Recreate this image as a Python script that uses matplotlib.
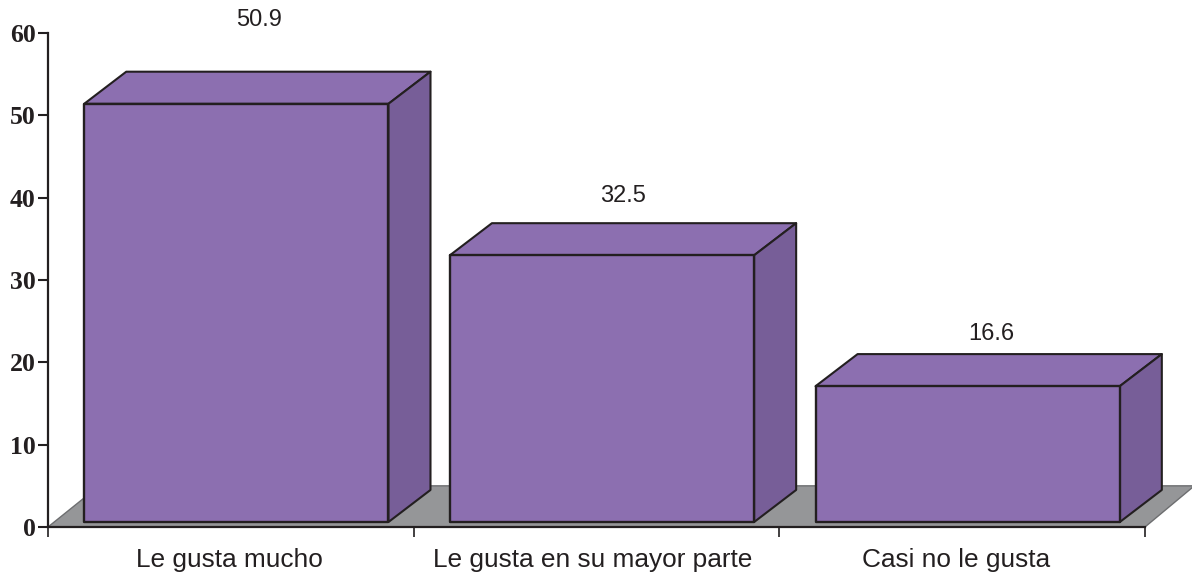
import matplotlib
matplotlib.use("Agg")
import matplotlib.pyplot as plt
from matplotlib.patches import Polygon

categorias = ["Le gusta mucho", "Le gusta en su mayor parte", "Casi no le gusta"]
valores = [50.9, 32.5, 16.6]
ticks_y = [0, 10, 20, 30, 40, 50, 60]

# estilo
morado = "#8c6fb0"
morado_lado = "#775e98"
gris = "#959698"
borde = "#231f20"
ancho = 0.832      # ancho de la barra
centro = 0.515     # centro de la barra dentro de su categoria
base = 0.6         # la cara frontal queda por encima del eje
dx, dy = 0.115, 3.9  # profundidad 3D
# distancia de cada etiqueta sobre la cara frontal, y corrimiento a la derecha
gap_etiqueta = [10.2, 7.2, 6.3]
corrimiento = [0.063, 0.058, 0.064]
pos_categorias = [0.497, 1.49, 2.483]

fig = plt.figure(figsize=(11.92, 5.74), dpi=100)
ax = fig.add_axes([48 / 1192, 1 - 527 / 574, 1097 / 1192, 494 / 574])
ax.set_xlim(0, 3)
ax.set_ylim(0, 60)

# Piso gris
ax.add_patch(Polygon([(0, 0), (3, 0), (3 + 0.135, 5.0), (0.14, 5.0)],
                     facecolor=gris, edgecolor="#6d6e70", linewidth=1, clip_on=False, zorder=1))

# Barras
for i, v in enumerate(valores):
    x0 = i + centro - ancho / 2
    x1 = x0 + ancho
    top = v + 0.5
    frente = [(x0, base), (x1, base), (x1, top), (x0, top)]
    arriba = [(x0, top), (x1, top), (x1 + dx, top + dy), (x0 + dx, top + dy)]
    lado = [(x1, base), (x1 + dx, base + dy), (x1 + dx, top + dy), (x1, top)]
    ax.add_patch(Polygon(arriba, facecolor=morado, edgecolor=borde, linewidth=1.5,
                         joinstyle="round", clip_on=False, zorder=3))
    ax.add_patch(Polygon(lado, facecolor=morado_lado, edgecolor=borde, linewidth=1.5,
                         joinstyle="round", clip_on=False, zorder=3))
    ax.add_patch(Polygon(frente, facecolor=morado, edgecolor=borde, linewidth=1.7,
                         joinstyle="round", clip_on=False, zorder=4))
    ax.text(i + centro + corrimiento[i], top + gap_etiqueta[i], f"{v}",
            ha="center", va="center", fontsize=17, color=borde,
            family="Liberation Sans", zorder=5, clip_on=False)

# Ejes
ax.spines["top"].set_visible(False)
ax.spines["right"].set_visible(False)
for s in ("left", "bottom"):
    ax.spines[s].set_linewidth(1.6)
    ax.spines[s].set_color(borde)
    ax.spines[s].set_zorder(2)

ax.set_yticks(ticks_y)
ax.set_yticklabels([str(t) for t in ticks_y], family="Liberation Serif",
                   fontweight="bold", fontsize=18.5, color=borde)
ax.tick_params(axis="y", length=7, width=1.5, color=borde, pad=2)

ax.set_xticks([0, 1, 2, 3])
ax.set_xticklabels([])
ax.tick_params(axis="x", which="major", length=7, width=1.2, color=borde)
ax.set_xticks(pos_categorias, minor=True)
ax.set_xticklabels(categorias, minor=True, family="Liberation Sans", fontsize=18.9, color=borde)
ax.tick_params(axis="x", which="minor", length=0, pad=15)

fig.savefig("out.png", dpi=100)
